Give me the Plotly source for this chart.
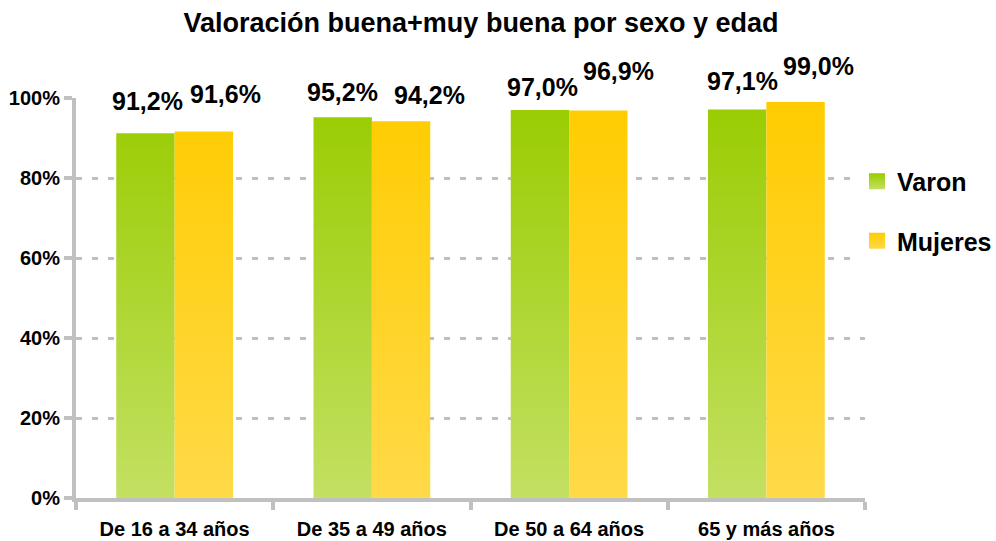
import plotly.graph_objects as go

categories = ["De 16 a 34 años", "De 35 a 49 años", "De 50 a 64 años", "65 y más años"]
varon = [91.2, 95.2, 97.0, 97.1]
mujeres = [91.6, 94.2, 96.9, 99.0]
series_names = ["Varon", "Mujeres"]
value_labels_varon = ["91,2%", "95,2%", "97,0%", "97,1%"]
value_labels_mujeres = ["91,6%", "94,2%", "96,9%", "99,0%"]
y_ticks = [0, 20, 40, 60, 80, 100]

# style
W, H = 996, 541
BAR_W = 0.296
FONT = "Liberation Sans, Arial, sans-serif"
GREEN = ["#c3e062", "#99cc00"]  # bottom, top
YELLOW = ["#ffda48", "#ffcc00"]
GRID = "#c0c0c0"
# label pixel offsets (as placed in the original)
shift_x_v = [2, 0, 3, 5]
shift_y_v = [32, 25, 23, 29]
shift_x_m = [22, 28, 20, 23]
shift_y_m = [38, 26, 39, 36]

n = len(categories)
xs = list(range(n))


def rects(values, side):
    px, py = [], []
    for i, v in zip(xs, values):
        x0 = i - BAR_W if side == 0 else i
        x1 = i if side == 0 else i + BAR_W
        px += [x0, x1, x1, x0, x0, None]
        py += [0, 0, v, v, 0, None]
    return px, py


fig = go.Figure()
for vals, side, cols in [(varon, 0, GREEN), (mujeres, 1, YELLOW)]:
    px, py = rects(vals, side)
    fig.add_trace(go.Scatter(
        x=px, y=py, mode="lines", fill="toself",
        line=dict(width=0, color="rgba(0,0,0,0)"),
        fillgradient=dict(type="vertical", colorscale=[[0, cols[0]], [1, cols[1]]], start=0, stop=100),
        showlegend=False, hoverinfo="skip",
    ))

for name, cols, grp in [(series_names[0], GREEN, "a"), (series_names[1], YELLOW, "b")]:
    fig.add_trace(go.Scatter(
        x=[None], y=[None], mode="markers", name=name, legendgroup=grp,
        marker=dict(symbol="square", size=16, color=cols[1],
                    gradient=dict(type="vertical", color=cols[0]),
                    line=dict(width=0)),
    ))

for i in xs:
    fig.add_annotation(x=i - BAR_W / 2, y=varon[i], text=value_labels_varon[i],
                       showarrow=False, xanchor="center", yanchor="middle",
                       xshift=shift_x_v[i], yshift=shift_y_v[i],
                       font=dict(size=25, family=FONT, color="black", weight="bold"))
    fig.add_annotation(x=i + BAR_W / 2, y=mujeres[i], text=value_labels_mujeres[i],
                       showarrow=False, xanchor="center", yanchor="middle",
                       xshift=shift_x_m[i], yshift=shift_y_m[i],
                       font=dict(size=25, family=FONT, color="black", weight="bold"))

fig.update_layout(
    width=W, height=H,
    margin=dict(l=76, r=131, t=98, b=43, autoexpand=False),
    paper_bgcolor="white", plot_bgcolor="white",
    font=dict(family=FONT, color="black"),
    title=dict(text="Valoración buena+muy buena por sexo y edad",
               x=481 / W, xanchor="center", xref="container",
               y=1 - 23 / H, yanchor="middle", yref="container",
               font=dict(size=27, family=FONT, color="black", weight="bold")),
    legend=dict(x=857 / W, xanchor="left", y=1 - 211 / H, yanchor="middle",
                xref="container", yref="container",
                bgcolor="white", traceorder="grouped", tracegroupgap=24,
                font=dict(size=25, family=FONT, color="black", weight="bold"),
                itemwidth=30),
    showlegend=True,
    hovermode=False,
)

fig.update_xaxes(
    range=[-0.5, n - 0.5], tickmode="array", tickvals=xs, ticktext=categories,
    ticks="", showgrid=False, zeroline=False, automargin=False,
    showline=True, linecolor=GRID, linewidth=4, ticklabelstandoff=10,
    tickfont=dict(size=20, family=FONT, color="black", weight="bold"),
    minor=dict(tickmode="array", tickvals=[i - 0.5 for i in range(n + 1)],
               ticks="outside", ticklen=8, tickwidth=4, tickcolor=GRID, showgrid=False),
)
fig.update_yaxes(
    range=[0, 100], tickmode="array", tickvals=y_ticks,
    ticktext=[f"{v}%" for v in y_ticks], automargin=False,
    showgrid=True, gridcolor=GRID, gridwidth=2.5, griddash="6px,10px",
    zeroline=False, showline=True, linecolor=GRID, linewidth=4,
    ticks="outside", ticklen=8, tickwidth=4, tickcolor=GRID,
    tickfont=dict(size=20, family=FONT, color="black", weight="bold"),
)

fig.write_html(
    "out.html",
    config={"displayModeBar": False},
    post_script="document.body.style.margin='0';document.body.style.overflow='hidden';",
)
